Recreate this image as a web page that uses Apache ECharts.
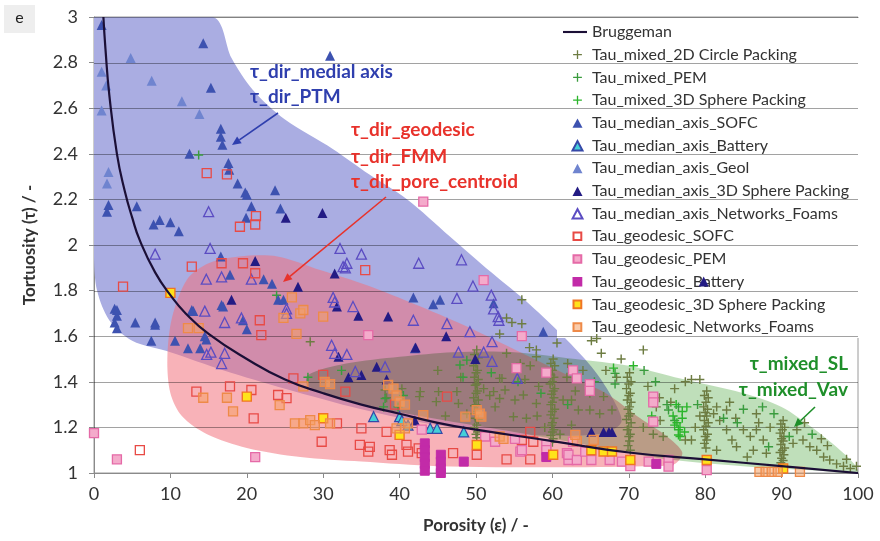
<!DOCTYPE html>
<html><head><meta charset="utf-8">
<script src="https://cdn.jsdelivr.net/npm/echarts@6/dist/echarts.min.js"></script>
<style>html,body{margin:0;padding:0;background:#fff}#c{width:880px;height:541px}</style>
</head><body><div id="c"></div>
<script>
// ---------- axis ticks ----------
const xTicks = [0,10,20,30,40,50,60,70,80,90,100];
const yTicks = [1,1.2,1.4,1.6,1.8,2,2.2,2.4,2.6,2.8,3];

// ---------- Bruggeman curve ----------
const brugX = [1.23,1.5,2,3,4,5,6,8,10,12,15,20,25,30,35,40,45,50,60,70,80,90,100];
const brugY = [3.0,2.86,2.66,2.40,2.24,2.12,2.02,1.88,1.78,1.70,1.61,1.50,1.41,1.35,1.30,1.26,1.22,1.19,1.14,1.09,1.06,1.03,1.0];

// ---------- shaded envelopes ----------
const blueRegion = [[0,3],[15.6,3],[18,2.82],[20.8,2.68],[25,2.55],[31.3,2.42],[36,2.31],[41,2.2],[46.5,2.04],[52,1.88],[57,1.74],[62,1.58],[65.5,1.45],[68,1.32],[69,1.22],[66,1.17],[55,1.17],[45,1.21],[35,1.28],[25,1.37],[17,1.45],[10,1.53],[5,1.58],[2,1.67],[0.4,1.8],[0,1.95]];
const pinkRegion = [[12.2,1.85],[15,1.92],[19,1.95],[24,1.95],[29.6,1.89],[36,1.82],[42,1.74],[48.3,1.65],[55.8,1.53],[62,1.43],[67,1.35],[71.5,1.24],[75,1.16],[77,1.09],[76,1.04],[72,1.03],[60,1.025],[45,1.03],[35,1.05],[27,1.07],[20,1.11],[14.8,1.17],[11.5,1.25],[10,1.35],[9.6,1.5],[10.2,1.68]];
const greenRegion = [[28,1.43],[33,1.48],[40,1.51],[47,1.53],[55,1.53],[63,1.5],[70,1.47],[76,1.42],[85,1.35],[90,1.29],[94,1.2],[97,1.12],[99.5,1.04],[100,1.0],[95,1.01],[85,1.03],[75,1.06],[65,1.12],[55,1.18],[46,1.23],[35,1.3],[28,1.38]];

// ---------- Tau_mixed (plus markers) ----------
const mixed2D = [
 [50.1,1.54],[49.8,1.52],[50.3,1.505],[50.0,1.48],[49.7,1.47],[50.2,1.45],[50.0,1.44],[49.8,1.42],[50.3,1.41],[50.1,1.39],[49.9,1.385],[50.2,1.36],[50.0,1.35],[49.7,1.33],[50.3,1.32],[50.0,1.30],[49.8,1.295],[50.2,1.27],[50.0,1.26],[49.9,1.24],[50.3,1.235],[50.1,1.21],[49.8,1.20],[50.2,1.18],[50.0,1.17],[50.1,1.155],
 [60.1,1.50],[59.8,1.48],[60.3,1.47],[60.0,1.45],[59.8,1.43],[60.2,1.42],[60.0,1.40],[59.7,1.39],[60.3,1.37],[60.1,1.36],[59.9,1.345],[60.2,1.33],[60.0,1.31],[59.8,1.30],[60.3,1.28],[60.0,1.27],[59.8,1.255],[60.2,1.24],[60.0,1.22],[59.9,1.21],[60.2,1.19],[60.0,1.18],[59.8,1.165],[60.1,1.15],[60.0,1.135],
 [70.1,1.44],[69.8,1.42],[70.3,1.40],[70.0,1.39],[69.7,1.37],[70.2,1.35],[70.0,1.34],[69.8,1.32],[70.3,1.31],[70.1,1.29],[69.9,1.28],[70.2,1.26],[70.0,1.25],[69.7,1.235],[70.3,1.22],[70.0,1.20],[69.8,1.19],[70.2,1.17],[70.0,1.16],[70.1,1.14],[69.9,1.12],[70.2,1.10],
 [80.2,1.36],[79.9,1.34],[80.4,1.33],[80.1,1.31],[79.8,1.29],[80.3,1.28],[80.0,1.265],[80.2,1.25],[79.9,1.23],[80.4,1.22],[80.1,1.205],[79.8,1.19],[80.3,1.17],[80.0,1.16],[80.2,1.145],[79.9,1.13],[80.1,1.11],
 [90.2,1.23],[89.9,1.215],[90.4,1.20],[90.1,1.19],[89.8,1.175],[90.3,1.16],[90.0,1.15],[90.2,1.14],[89.9,1.125],[90.4,1.11],[90.1,1.10],[89.8,1.09],[90.3,1.08],[90.0,1.065],[90.2,1.055],[89.9,1.045],
 [56.0,1.76],[54.0,1.68],[54.7,1.66],[56.0,1.655],[53.1,1.61],[60.6,1.57],[57.9,1.54],[57.9,1.51],[54.0,1.525],[55.8,1.48],[57.1,1.47],[53.1,1.415],[56.4,1.41],[58.2,1.38],[61.9,1.42],[63.0,1.36],[61.4,1.32],[62.5,1.32],[63.4,1.276],[64.9,1.276],[66.2,1.26],[67.8,1.276],[66.7,1.335],[64.9,1.35],[55.1,1.32],[56.2,1.342],[54.9,1.247],[56.6,1.24],[51.8,1.34],[53.1,1.327],[52.5,1.29],[53.8,1.364],[47.5,1.357],[45.1,1.357],[42.7,1.357],[42.6,1.335],[44.8,1.313],[47.7,1.305],[48.8,1.26],[51.0,1.37],[52.3,1.357],[53.4,1.415],[57.9,1.305],[58.0,1.25],[59.0,1.20],[61.0,1.17],[62.5,1.21],[38.1,1.364],[38.3,1.33],[40.3,1.37],[28.3,1.576],[65.1,1.58],[65.8,1.59],[66.4,1.525],[71.9,1.54],[68.4,1.42],[73.6,1.29],[74.1,1.23],[71.9,1.20],[73.2,1.17],[74.5,1.16],[77.4,1.40],[78.2,1.41],[79.3,1.41],[76.0,1.37],[77.4,1.145],[78.2,1.145],[78.7,1.20],[79.3,1.25],[81.1,1.26],[81.9,1.23],[82.8,1.19],[83.5,1.145],[85.0,1.19],[85.9,1.16],[86.7,1.19],[87.6,1.145],[88.5,1.20],[86.7,1.26],[81.5,1.29],[82.8,1.276],[83.2,1.31],[92.0,1.19],[92.8,1.145],[93.7,1.115],[94.6,1.10],[95.5,1.07],[96.3,1.057],[97.2,1.04],[98.1,1.03],[99.0,1.02],[99.8,1.03],[95.2,1.15],[91.5,1.13],[88.0,1.087],[86.3,1.10],[84.1,1.115],[81.5,1.10],[72.5,1.38],[74.0,1.33],[67.0,1.45],[64.0,1.45],[48.0,1.42],[45.0,1.45],[46.0,1.25],[57.0,1.55],[62.0,1.48],[69.0,1.50],[75.5,1.31],[84.0,1.24],[87.0,1.22],[93.0,1.22],[96.0,1.12],[98.5,1.06],[85.5,1.07]
];
const mixedPEM = [[47.9,1.474],[48.8,1.495],[48.3,1.42],[32.4,1.45],[38.1,1.327],[37.9,1.29],[28.0,1.42],[23.9,1.78],[13.7,2.395],[39.8,1.29],[68.2,1.437],[68.2,1.39],[76.5,1.29],[76.0,1.23],[75.2,1.276],[75.0,1.30],[84.2,1.22],[82.4,1.24],[88.3,1.115],[52.0,1.44],[55.5,1.40],[58.5,1.35],[62.0,1.30],[65.5,1.40],[72.0,1.45],[73.5,1.40],[79.0,1.30],[85.0,1.28],[89.0,1.26],[91.0,1.16],[94.0,1.17],[87.5,1.29],[40.5,1.34]];
const mixed3D = [[76.5,1.167],[76.7,1.20],[77.0,1.24],[77.6,1.29],[76.3,1.22],[76.5,1.19],[76.7,1.16],[75.8,1.25],[77.3,1.18],[76.0,1.21],[77.0,1.27],[76.2,1.30],[68.0,1.46],[70.6,1.47],[73.0,1.25]];

// ---------- Tau_median_axis (triangles) ----------
const medSOFC = [[1.0,2.965],[14.3,2.885],[15.3,2.69],[16.6,2.51],[16.6,2.475],[16.8,2.44],[12.5,2.40],[17.6,2.36],[17.7,2.33],[18.8,2.27],[19.8,2.23],[20.0,2.22],[1.9,2.175],[1.7,2.146],[5.6,2.17],[7.8,2.09],[8.6,2.11],[10.0,2.10],[11.1,2.06],[23.7,2.24],[24.4,2.16],[20.6,2.17],[19.9,2.12],[30.9,2.83],[16.6,1.95],[22.2,1.85],[23.3,1.83],[24.1,1.76],[24.8,1.76],[16.9,1.73],[2.7,1.72],[3.0,1.69],[2.7,1.66],[3.0,1.635],[8.0,1.66],[5.4,1.66],[8.0,1.65],[7.5,1.58],[10.6,1.58],[12.3,1.547],[13.9,1.547],[14.7,1.586],[19.5,1.67],[20.0,1.63],[41.8,1.77],[44.4,1.74],[45.3,1.76],[42.0,1.547],[17.8,1.87],[16.7,1.737],[12.8,1.715],[14.5,1.60],[3.0,1.715],[58.8,1.62],[52.3,1.745],[13.0,1.71]];
const medBattery = [[36.6,1.247],[40.0,1.247],[41.1,1.21],[44.0,1.196],[44.9,1.196],[48.4,1.18],[40.3,1.23]];
const medGeol = [[1.0,2.76],[1.6,2.70],[1.0,2.59],[4.8,2.82],[7.55,2.72],[1.9,2.32],[1.7,2.27],[11.5,2.63],[13.8,2.575]];
const med3D = [[25.1,2.12],[29.9,2.14],[21.1,1.93],[26.7,1.817],[18.0,1.76],[31.5,1.875],[38.5,1.686],[34.6,1.69],[31.8,1.73],[32.0,1.51],[33.3,1.42],[35.0,1.43],[37.0,1.466],[38.3,1.41],[42.0,1.23],[42.1,1.55],[49.9,1.50],[46.1,1.60],[65.1,1.18],[66.7,1.18],[67.4,1.18],[67.8,1.18],[79.8,1.84]];
const medFoams = [[15.0,2.146],[15.2,1.985],[8.0,1.96],[32.2,1.985],[35.0,1.96],[33.1,1.92],[32.6,1.905],[42.5,1.92],[14.7,1.85],[16.7,1.86],[20.6,1.85],[14.5,1.71],[19.3,1.68],[17.1,1.66],[14.75,1.52],[15.3,1.53],[17.1,1.525],[16.7,1.48],[31.3,1.77],[33.9,1.73],[41.8,1.67],[33.1,1.52],[31.1,1.56],[31.5,1.525],[34.2,1.445],[38.1,1.466],[46.2,1.655],[25.2,1.72],[25.2,1.70],[32.9,1.90],[48.1,1.935],[49.6,1.82],[52.0,1.78],[52.3,1.72],[47.5,1.766],[31.5,1.75],[52.9,1.686],[49.2,1.62],[52.1,1.576],[47.7,1.53],[51.0,1.53],[52.1,1.49],[55.4,1.415],[53.0,1.67]];

// ---------- Tau_geodesic (squares) ----------
const geoSOFC = [[14.75,2.315],[17.4,2.31],[21.2,2.127],[19.1,2.08],[21.1,2.09],[12.8,1.905],[16.7,1.92],[19.5,1.92],[21.1,1.876],[35.5,1.89],[21.7,1.67],[21.9,1.605],[30.0,1.43],[32.9,1.357],[39.4,1.30],[46.2,1.335],[13.4,1.357],[17.8,1.38],[20.6,1.364],[20.9,1.24],[24.1,1.342],[25.2,1.328],[31.8,1.218],[29.8,1.137],[35.0,1.196],[38.3,1.18],[34.8,1.123],[36.1,1.115],[35.9,1.094],[38.7,1.10],[39.0,1.08],[40.9,1.123],[41.1,1.094],[42.5,1.108],[42.9,1.087],[6.0,1.10],[3.8,1.817],[47.0,1.087],[50.1,1.08],[54.0,1.06],[57.1,1.18],[57.1,1.06],[56.0,1.145],[57.5,1.137],[26.1,1.415]];
const geoPEM = [[43.1,2.19],[35.9,1.605],[0,1.175],[3.0,1.06],[21.1,1.07],[42.9,1.19],[51.2,1.16],[55.1,1.15],[55.8,1.094],[59.2,1.123],[61.9,1.087],[62.1,1.057],[55.3,1.46],[59.2,1.44],[62.7,1.45],[56.0,1.60],[51.0,1.846],[52.5,1.137],[56.0,1.10],[59.2,1.10],[62.7,1.137],[63.2,1.415],[62.1,1.08],[63.2,1.057],[64.3,1.094],[65.1,1.057],[67.5,1.057],[69.1,1.05],[72.6,1.05],[73.2,1.335],[73.2,1.225],[73.2,1.31],[75.2,1.057],[75.2,1.028],[80.2,1.013],[70.2,1.03],[64.9,1.39],[64.9,1.36]];
const geoBattery = [[43.3,1.13],[43.3,1.10],[43.3,1.07],[43.3,1.04],[43.3,1.01],[45.4,1.08],[45.4,1.05],[45.4,1.02],[45.4,1.0],[48.4,1.05],[59.2,1.07],[73.6,1.04]];
const geo3D = [[10,1.79],[20.0,1.335],[30.0,1.24],[40.0,1.167],[50.1,1.123],[60.1,1.08],[65.1,1.10],[66.7,1.094],[67.8,1.094],[70.2,1.057],[80.2,1.057],[90.2,1.02]];
const geoFoams = [[25.9,1.77],[12.3,1.635],[13.7,1.635],[24.8,1.68],[26.5,1.61],[27.0,1.70],[27.4,1.715],[30.0,1.686],[27.4,1.38],[30.2,1.40],[30.9,1.39],[38.5,1.386],[39.2,1.37],[39.6,1.34],[40.0,1.313],[40.7,1.30],[43.1,1.254],[14.3,1.33],[17.4,1.33],[18.2,1.27],[24.3,1.298],[26.3,1.218],[27.4,1.218],[28.3,1.232],[28.9,1.21],[30.9,1.218],[39.6,1.196],[40.7,1.196],[41.1,1.218],[48.6,1.247],[50.7,1.247],[50.1,1.276],[53.1,1.16],[53.6,1.15],[63.2,1.14],[50.5,1.26],[63.0,1.167],[65.4,1.145],[87.1,1.005],[87.9,1.005],[88.7,1.005],[89.5,1.005],[92.4,1.005]];

// ---------- labels ----------
const legendNames = ['Bruggeman','Tau_mixed_2D Circle Packing','Tau_mixed_PEM','Tau_mixed_3D Sphere Packing','Tau_median_axis_SOFC','Tau_median_axis_Battery','Tau_median_axis_Geol','Tau_median_axis_3D Sphere Packing','Tau_median_axis_Networks_Foams','Tau_geodesic_SOFC','Tau_geodesic_PEM','Tau_geodesic_Battery','Tau_geodesic_3D Sphere Packing','Tau_geodesic_Networks_Foams'];

const FONT = 'Lato, "Open Sans", sans-serif';
const PLUS = 'path://M4.2,0H5.8V4.2H10V5.8H5.8V10H4.2V5.8H0V4.2H4.2Z';
// legend icons: padded to the 24x10 legend box so they keep their shape
const ICON_LINE = 'path://M0,3.9H25V6.1H0Z';
const ICON_TRI = 'path://M0,0M24,10M9.5,10L14.5,0.6L19.5,10Z';
const ICON_RECT = 'path://M0,0M24,10M10.5,1.2H18.3V8.8H10.5Z';
const ICON_PLUS = 'path://M0,0M24,10M13.85,0.6H15.15V4.35H18.9V5.65H15.15V9.4H13.85V5.65H10.1V4.35H13.85Z';
function legendIcon(n){
  if (n === 'Bruggeman') return ICON_LINE;
  if (n.indexOf('mixed') >= 0) return ICON_PLUS;
  if (n.indexOf('median') >= 0) return ICON_TRI;
  return ICON_RECT;
}

const BLUE_FILL = '#aaade2', PINK_FILL = 'rgba(242,112,124,0.54)', GREEN_FILL = '#bfdfba', GRID_STROKE = '#a2a2a2';

function region(name, pts, fill) {
  return {type:'custom', name, coordinateSystem:'cartesian2d', data:[[pts[0][0], pts[0][1]]], z:1, silent:true, clip:true,
    renderItem:(params, api)=>({type:'polygon', shape:{points: pts.map(p=>api.coord(p)), smooth:0.3},
      style:{fill}})};
}
function scat(name, data, symbol, size, color, border, bw) {
  return {type:'scatter', name, data, symbol, symbolSize:size, symbolKeepAspect:true, z:5,
    itemStyle:{color, borderColor:border||color, borderWidth:bw||0, opacity:1}};
}

const chart = echarts.init(document.getElementById('c'), null, {renderer:'canvas'});

function arrow(x1,y1,x2,y2,color){
  const ang = Math.atan2(y2-y1, x2-x1), L=9, W=4;
  const bx = x2 - L*Math.cos(ang), by = y2 - L*Math.sin(ang);
  return [
    {type:'line', z:20, shape:{x1,y1,x2:bx,y2:by}, style:{stroke:color, lineWidth:1.6}},
    {type:'polygon', z:20, shape:{points:[[x2,y2],[bx - W*Math.sin(ang), by + W*Math.cos(ang)],[bx + W*Math.sin(ang), by - W*Math.cos(ang)]]}, style:{fill:color}}
  ];
}
function label(text, x, y, color, align){
  return {type:'text', z:20, x, y, style:{text, fill:color, font:'bold 19px ' + FONT, textAlign:align||'left', textVerticalAlign:'middle'}};
}

const option = {
  animation:false,
  backgroundColor:'#ffffff',
  textStyle:{fontFamily:FONT},
  grid:{left:94, right:22, top:17, bottom:68, show:true, borderColor:'#9a9a9a', borderWidth:1, backgroundColor:'transparent'},
  xAxis:{type:'value', min:0, max:100, interval:10,
    name:'Porosity (ε) / -', nameLocation:'middle', nameGap:44,
    nameTextStyle:{fontFamily:FONT, fontWeight:'bold', fontSize:17, color:'#333'},
    axisLine:{show:true, lineStyle:{color:'#8a8a8a', width:1}},
    axisTick:{show:true, length:5, lineStyle:{color:'#8a8a8a'}},
    axisLabel:{fontFamily:FONT, fontSize:18, color:'#333', margin:12},
    splitLine:{show:false}},
  yAxis:{type:'value', min:1, max:3, interval:0.2,
    name:'Tortuosity (τ) / -', nameLocation:'middle', nameGap:56,
    nameTextStyle:{fontFamily:FONT, fontWeight:'bold', fontSize:17, color:'#333'},
    axisLine:{show:true, lineStyle:{color:'#8a8a8a', width:1}},
    axisTick:{show:true, length:5, lineStyle:{color:'#8a8a8a'}},
    axisLabel:{fontFamily:FONT, fontSize:18, color:'#333', margin:16},
    splitLine:{show:false}},
  legend:{orient:'vertical', left:557, top:18, z:3,
    data: legendNames.map(n => ({name:n, icon:legendIcon(n)})),
    backgroundColor:'#ffffff', padding:[6,14,3,5],
    itemWidth:24, itemHeight:10, itemGap:6.7, symbolKeepAspect:true,
    textStyle:{fontFamily:FONT, fontSize:16, color:'#333', lineHeight:16},
    selectedMode:false},
  graphic:[
    {type:'rect', shape:{x:4, y:5, width:31, height:28}, style:{fill:'#eeeeee'}},
    {type:'text', x:19.5, y:18, style:{text:'e', font:'16px ' + FONT, fill:'#222', textAlign:'center', textVerticalAlign:'middle'}},
    label('τ_dir_medial axis', 250, 72, '#2f3fae'),
    label('τ_dir_PTM', 250, 97, '#2f3fae'),
    ...arrow(278,113,232,145,'#2f3fae'),
    label('τ_dir_geodesic', 351, 130, '#e8322b'),
    label('τ_dir_FMM', 351, 157, '#e8322b'),
    label('τ_dir_pore_centroid', 351, 182, '#e8322b'),
    ...arrow(386,197,283,282,'#e8322b'),
    label('τ_mixed_SL', 848, 364, '#1f8f2a', 'right'),
    label('τ_mixed_Vav', 848, 390, '#1f8f2a', 'right'),
    ...arrow(815,407,794,427,'#1f8f2a')
  ],
  series:[
    region('blueRegion', blueRegion, BLUE_FILL),
    region('pinkRegion', pinkRegion, PINK_FILL),
    region('greenRegion', greenRegion, GREEN_FILL),
    {type:'custom', name:'gridlines', data: yTicks.slice(1).map(v=>[0,v]), z:4, silent:true,
      renderItem:(params, api)=>{const v=api.value(1); const a=api.coord([0,v]), b=api.coord([100,v]);
        const y=Math.round(a[1])+0.5;
        return {type:'line', shape:{x1:a[0], y1:y, x2:b[0], y2:y}, style:{stroke:GRID_STROKE, lineWidth:1}};}},
    {type:'line', name:'Bruggeman', data: brugX.map((x,i)=>[x, brugY[i]]), smooth:true, symbol:'none', showSymbol:false, z:6,
      lineStyle:{color:'#1b0f36', width:2.2}, itemStyle:{color:'#1b0f36'}},
    scat('Tau_mixed_2D Circle Packing', mixed2D, PLUS, 9, '#6d7c42'),
    scat('Tau_mixed_PEM', mixedPEM, PLUS, 9, '#3a9c3e'),
    scat('Tau_mixed_3D Sphere Packing', mixed3D, PLUS, 9, '#2bb52b'),
    scat('Tau_median_axis_SOFC', medSOFC, 'triangle', 10, '#3d52b0'),
    scat('Tau_median_axis_Battery', medBattery, 'triangle', 10, '#44cfd8', '#3648a8', 1.2),
    scat('Tau_median_axis_Geol', medGeol, 'triangle', 10, '#6f84cf'),
    scat('Tau_median_axis_3D Sphere Packing', med3D, 'triangle', 10, '#231b84'),
    scat('Tau_median_axis_Networks_Foams', medFoams, 'triangle', 10, 'rgba(255,255,255,0)', '#5b4cc2', 1.3),
    scat('Tau_geodesic_SOFC', geoSOFC, 'rect', 9, 'rgba(255,255,255,0)', '#e84a45', 1.3),
    scat('Tau_geodesic_PEM', geoPEM, 'rect', 9, '#f4abcb', '#e56aa7', 1.3),
    scat('Tau_geodesic_Battery', geoBattery, 'rect', 9, '#c22ba8', '#c22ba8', 1),
    scat('Tau_geodesic_3D Sphere Packing', geo3D, 'rect', 9, '#ffe31a', '#f07524', 1.4),
    scat('Tau_geodesic_Networks_Foams', geoFoams, 'rect', 9, 'rgba(245,160,100,0.55)', '#ee8a48', 1.3)
  ]
};
chart.setOption(option);

// multiply blending for the green envelope and the grid lines (as in the source figure)
function applyBlend(){
  const zr = chart.getZr();
  let changed = false;
  zr.storage.getDisplayList(true).forEach(el => {
    const s = el.style;
    if (!s) return;
    if ((s.fill === GREEN_FILL && el.type === 'polygon') || (s.stroke === GRID_STROKE && el.type === 'line')) {
      if (s.blend !== 'multiply') { s.blend = 'multiply'; el.markRedraw && el.markRedraw(); changed = true; }
    }
  });
  if (changed) zr.refreshImmediately();
}
applyBlend();
chart.on('finished', applyBlend);
</script></body></html>
